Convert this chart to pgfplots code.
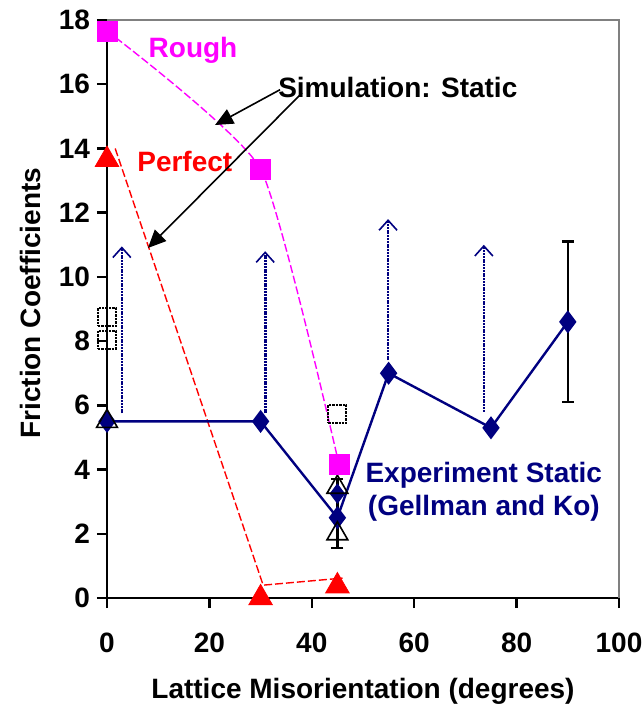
\documentclass[border=0pt]{standalone}
\usepackage{fontspec}
\setmainfont{Liberation Sans}
\usepackage{pgfplots}
\pgfplotsset{compat=1.18}
\usetikzlibrary{arrows.meta}
\definecolor{navy}{RGB}{0,0,128}
\definecolor{axgray}{RGB}{128,128,128}
\definecolor{pinkm}{RGB}{255,0,255}
\definecolor{redp}{RGB}{255,0,0}

\begin{document}
\begin{tikzpicture}[font=\fontsize{14}{16.5}\selectfont\bfseries]
\begin{axis}[
    scale only axis,
    width=256pt, height=289pt,
    xmin=0, xmax=100, ymin=0, ymax=18,
    axis x line=bottom, axis y line=left,
    axis line style={-, line width=1.2pt, black},
    xtick={0,20,...,100}, ytick={0,2,...,18},
    tick align=outside,
    major tick length=5pt,
    every tick/.style={black, line width=1.2pt},
    /pgf/number format/assume math mode=true,
    tick label style={font=\fontsize{14}{16}\selectfont\bfseries},
    xticklabel shift=9pt,
    xlabel={Lattice Misorientation (degrees)},
    ylabel={Friction Coefficients},
    xlabel style={at={(axis description cs:0.5,-0.162)}, anchor=center},
    ylabel style={at={(axis description cs:-0.150,0.51)}, anchor=center, rotate=0},
    clip=false,
]
% simulation lines
\addplot[pinkm, line width=0.7pt, dash pattern=on 4pt off 1.5pt, smooth, tension=0.3] coordinates {(0,17.66) (30,13.36) (45.3,4.17)};
\addplot[redp, line width=0.7pt, dash pattern=on 4pt off 1.5pt] coordinates {(1.6,14.0) (30.5,0.4) (46,0.62)};
% lower-bound arrows (experiment)
\addplot[navy, line width=1.3pt, dash pattern=on 1pt off 0.4pt, -{Straight Barb[length=5pt,width=9pt,line width=0.8pt]}] coordinates {(2.9,5.75) (2.9,10.95)};
\addplot[navy, line width=1.3pt, dash pattern=on 1pt off 0.4pt, -{Straight Barb[length=5pt,width=9pt,line width=0.8pt]}] coordinates {(30.9,5.75) (30.9,10.8)};
\addplot[navy, line width=1.3pt, dash pattern=on 1pt off 0.4pt, -{Straight Barb[length=5pt,width=9pt,line width=0.8pt]}] coordinates {(54.9,7.4) (54.9,11.8)};
\addplot[navy, line width=1.3pt, dash pattern=on 1pt off 0.4pt, -{Straight Barb[length=5pt,width=9pt,line width=0.8pt]}] coordinates {(73.6,5.8) (73.6,11.0)};
% error bars
\addplot[draw=none, mark=none, error bars/.cd, y dir=both, y explicit,
    error bar style={black, line width=1.2pt},
    error mark options={black, rotate=90, mark size=3pt, line width=1.2pt}]
    coordinates {(90,8.6) +- (0,2.5) (45,2.63) +- (0,1.07)};
% experiment
\addplot[navy, line width=1.2pt, mark=diamond*, mark size=4.8pt, mark options={fill=navy}] coordinates {(0,5.5) (30,5.5) (45,2.5) (55,7.0) (75,5.3) (90,8.6)};
\addplot[only marks, navy, mark=diamond*, mark size=4.8pt] coordinates {(45,3.25)};
% other open symbols
\addplot[only marks, black, mark=triangle, mark size=6pt, mark options={line width=0.8pt}] coordinates {(0,5.5) (45,3.45) (45,2.0)};
\addplot[only marks, black, mark=square, mark size=4.5pt, mark options={line width=1pt, dash pattern=on 1.2pt off 0.5pt}] coordinates {(0,8.75) (0,8.05) (45,5.73)};
% simulation markers
\addplot[only marks, pinkm, mark=square*, mark size=5pt] coordinates {(0,17.66) (30,13.36) (45.3,4.17)};
\addplot[only marks, redp, mark=triangle*, mark size=6.8pt] coordinates {(0,13.65) (30,0.0) (45,0.37)};
% frame top/right
\draw[axgray, line width=1.2pt] (rel axis cs:0,1) -- (rel axis cs:1,1) -- (rel axis cs:1,0);
% annotations
\node[pinkm] at (axis cs:16.8,17.07) {Rough};
\node[redp] at (axis cs:15.2,13.58) {Perfect};
\node at (axis cs:56.8,15.9) {Simulation: Static};
\node[navy, align=center] at (axis cs:73.6,3.3) {Experiment Static\\(Gellman and Ko)};
\draw[line width=0.8pt, -{Triangle[length=9pt,width=8pt]}] (axis cs:33.8,15.83) -- (axis cs:21.1,14.73);
\draw[line width=0.8pt, -{Triangle[length=9pt,width=8pt]}] (axis cs:38.1,15.73) -- (axis cs:8.0,10.9);
\end{axis}
\pgfresetboundingbox
\path[use as bounding box] (-53.5pt,-55.5pt) rectangle (268pt,299pt);
\end{tikzpicture}
\end{document}
